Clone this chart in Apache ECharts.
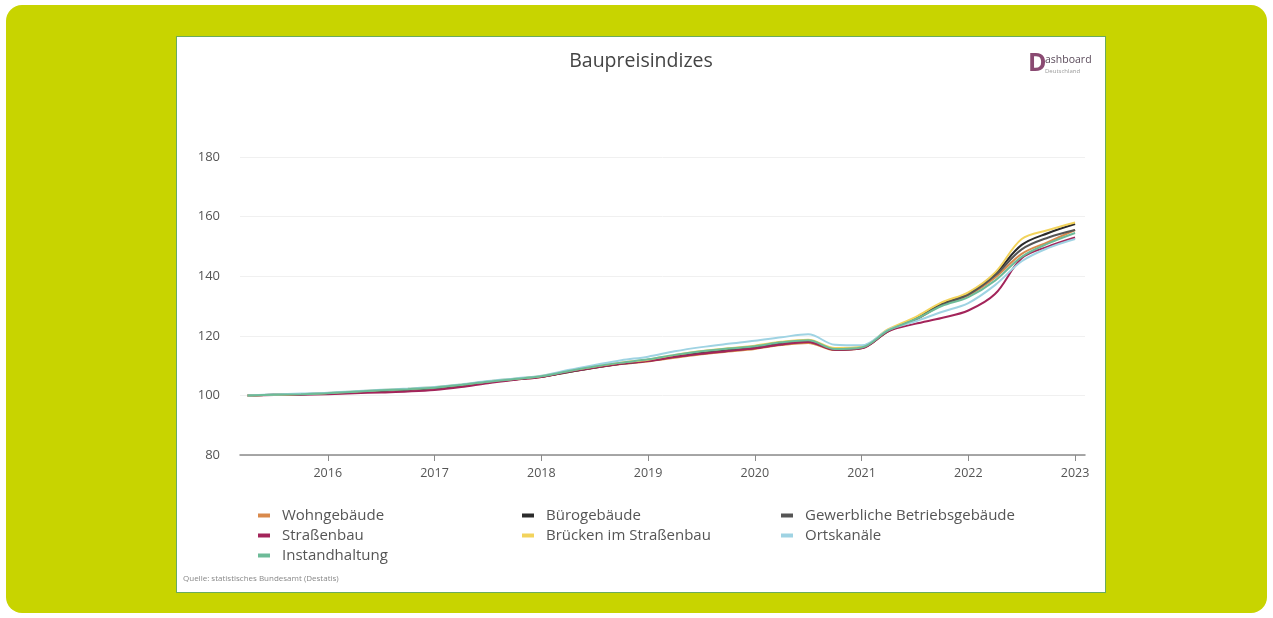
<!DOCTYPE html>
<html>
<head>
<meta charset="utf-8">
<script src="https://cdn.jsdelivr.net/npm/echarts@6/dist/echarts.min.js"></script>
<style>
  html, body { margin: 0; padding: 0; width: 1273px; height: 618px; background: #ffffff; overflow: hidden; }
  #outer { position: absolute; left: 6px; top: 5px; width: 1261px; height: 608px; background: #c8d400; border-radius: 16px; }
  #panel { position: absolute; left: 176px; top: 36px; width: 928px; height: 555px; border: 1px solid #6aab5e; background: #ffffff; }
  #chart { position: absolute; left: 0; top: 0; width: 928px; height: 555px; }
</style>
</head>
<body>
<div id="outer"></div>
<div id="panel"><div id="chart"></div></div>
<script>
// Quarterly observation dates
const quarters = ["2015-04","2015-07","2015-10","2016-01","2016-04","2016-07","2016-10","2017-01",
  "2017-04","2017-07","2017-10","2018-01","2018-04","2018-07","2018-10","2019-01",
  "2019-04","2019-07","2019-10","2020-01","2020-04","2020-07","2020-10","2021-01",
  "2021-04","2021-07","2021-10","2022-01","2022-04","2022-07","2022-10","2023-01"];
const yearTicks = [2016, 2017, 2018, 2019, 2020, 2021, 2022, 2023];
const yTicks = [80, 100, 120, 140, 160, 180];

const seriesNames = ["Wohngebäude","Bürogebäude","Gewerbliche Betriebsgebäude","Straßenbau","Brücken im Straßenbau","Ortskanäle","Instandhaltung"];
const wohn = [100,100.2,100.4,100.6,101.0,101.5,101.9,102.4,103.3,104.4,105.3,106.2,107.8,109.3,110.5,111.4,112.6,113.8,114.7,115.6,116.9,117.6,115.2,115.8,121.5,125.3,130.2,133.6,139.5,147.5,151.5,155.5];
const buero = [100,100.2,100.4,100.7,101.1,101.6,102.0,102.5,103.4,104.5,105.4,106.3,107.9,109.4,110.7,111.7,113.1,114.3,115.2,116.0,117.4,118.2,115.5,116.0,121.8,125.6,130.8,134.2,140.8,150.5,154.5,157.5];
const gewerb = [100,100.2,100.4,100.7,101.1,101.6,102.0,102.5,103.4,104.5,105.4,106.3,107.8,109.3,110.6,111.6,113.0,114.1,115.0,115.9,117.2,118.0,115.4,115.9,121.6,125.4,130.4,133.8,140.2,149.0,153.0,155.5];
const strassen = [100,100.1,100.2,100.4,100.7,101.0,101.3,101.8,102.8,104.1,105.2,106.2,107.9,109.4,110.6,111.5,112.9,114.0,114.9,115.8,117.1,117.9,115.3,115.8,121.5,124.0,126.0,128.5,134.0,146.0,150.0,153.0];
const bruecken = [100,100.2,100.5,100.8,101.3,101.8,102.2,102.7,103.6,104.7,105.6,106.5,108.2,109.7,111.0,112.0,113.6,114.9,115.8,116.7,118.0,118.7,115.9,116.3,122.2,126.2,131.2,134.6,141.2,152.5,155.5,158.0];
const orts = [100,100.3,100.6,100.9,101.4,101.9,102.3,102.8,103.7,104.8,105.7,106.6,108.5,110.2,111.8,113.0,114.8,116.2,117.3,118.3,119.5,120.5,117.0,116.8,122.0,124.8,128.0,131.0,137.0,145.0,149.5,152.5];
const instand = [100,100.2,100.4,100.7,101.2,101.7,102.1,102.6,103.5,104.6,105.5,106.4,108.1,109.7,111.0,112.1,113.6,114.8,115.7,116.5,117.8,118.5,115.6,116.1,121.8,125.5,130.0,133.0,138.5,146.5,151.0,154.5];

const allValues = [wohn, buero, gewerb, strassen, bruecken, orts, instand];
const colors = ["#d98a4c","#2b2b2b","#555555","#a3245a","#f2d35c","#9fd3e3","#6dbb98"];

// "YYYY-MM" -> decimal year
const toYear = s => { const p = s.split("-"); return Number(p[0]) + (Number(p[1]) - 1) / 12; };

const chart = echarts.init(document.getElementById('chart'), null, { renderer: 'canvas' });

const series = seriesNames.map((name, i) => ({
  name: name,
  type: 'line',
  data: quarters.map((q, k) => [toYear(q), allValues[i][k]]),
  smooth: 0.35,
  showSymbol: false,
  symbol: 'none',
  lineStyle: { width: 2, color: colors[i] },
  itemStyle: { color: colors[i] }
}));

const legendBase = {
  orient: 'vertical',
  top: 471,
  padding: 0,
  icon: 'rect',
  itemWidth: 12,
  itemHeight: 4,
  itemGap: 5,
  textStyle: { color: '#555555', fontSize: 15, fontFamily: 'Open Sans', padding: [0, 0, 0, 7] },
  selectedMode: false
};

chart.setOption({
  animation: false,
  textStyle: { fontFamily: 'Open Sans' },
  title: {
    text: 'Baupreisindizes',
    left: 'center',
    top: 9,
    textStyle: { color: '#444444', fontSize: 19.5, fontWeight: 'normal', fontFamily: 'Open Sans' }
  },
  grid: { left: 63, right: 20, top: 120, bottom: 137 },
  xAxis: {
    type: 'value',
    min: 2015.178,
    max: 2023.093,
    axisLine: { show: true, lineStyle: { color: '#8a8a8a', width: 1.5 } },
    axisTick: { show: true, customValues: yearTicks, length: 6, lineStyle: { color: '#8a8a8a' } },
    axisLabel: {
      customValues: yearTicks,
      formatter: v => String(Math.round(v)),
      color: '#555555', fontSize: 12.5, margin: 12, fontFamily: 'Open Sans'
    },
    splitLine: { show: false }
  },
  yAxis: {
    type: 'value',
    min: yTicks[0],
    max: yTicks[yTicks.length - 1],
    interval: 20,
    axisLine: { show: false },
    axisTick: { show: false },
    axisLabel: { color: '#555555', fontSize: 13, margin: 20, fontFamily: 'Open Sans' },
    splitLine: { show: true, lineStyle: { color: '#f0f0f0', width: 1 } }
  },
  legend: [
    Object.assign({}, legendBase, { left: 81, data: [seriesNames[0], seriesNames[3], seriesNames[6]] }),
    Object.assign({}, legendBase, { left: 345, data: [seriesNames[1], seriesNames[4]] }),
    Object.assign({}, legendBase, { left: 604, data: [seriesNames[2], seriesNames[5]] })
  ],
  graphic: [
    {
      type: 'text', left: 6, top: 538,
      style: { text: 'Quelle: statistisches Bundesamt (Destatis)', fill: '#888888', fontSize: 8, fontFamily: 'Open Sans' }
    },
    {
      type: 'text', left: 851, top: 14,
      style: { text: 'D', fontSize: 25, fontWeight: 'bold', fontFamily: 'Open Sans', fill: '#8a4a72' }
    },
    {
      type: 'text', left: 868, top: 18,
      style: { text: 'ashboard', fontSize: 10.5, fontFamily: 'Open Sans', fill: '#5a4a5a' }
    },
    {
      type: 'text', left: 868, top: 31,
      style: { text: 'Deutschland', fontSize: 6, fontFamily: 'Open Sans', fill: '#999999' }
    }
  ],
  series: series
});
</script>
</body>
</html>
